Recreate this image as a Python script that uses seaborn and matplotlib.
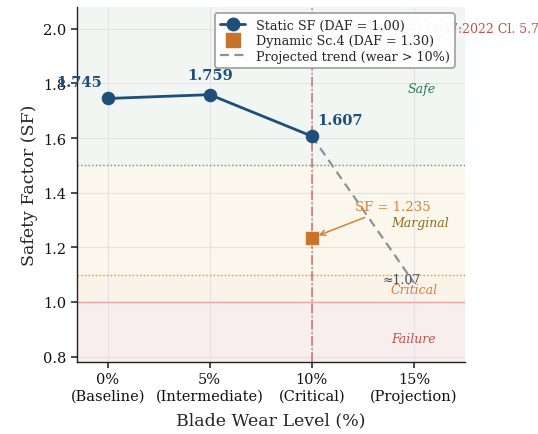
import matplotlib
matplotlib.use("Agg")
import matplotlib.pyplot as plt
import seaborn as sns
import pandas as pd
from matplotlib.lines import Line2D

wear = [0, 5, 10]
static_sf = [1.745, 1.759, 1.607]
dyn_wear = [10]
dyn_sf = [1.235]
proj_wear = [10, 15]
proj_sf = [1.607, 1.07]
tick_pos = [0, 5, 10, 15]
tick_labels = ["0%\n(Baseline)", "5%\n(Intermediate)", "10%\n(Critical)", "15%\n(Projection)"]

sns.set_theme(style="whitegrid")
plt.rcParams['font.family'] = ['DejaVu Serif']

fig = plt.figure(figsize=(5.38, 4.35), dpi=100)
ax = fig.add_axes([77/538, 1-363/435, 388/538, 355/435])

ax.axhspan(1.5, 2.08, color="#e8f1ec", alpha=0.6, zorder=0)
ax.axhspan(1.1, 1.5, color="#fbf3e0", alpha=0.6, zorder=0)
ax.axhspan(1.0, 1.1, color="#f9eadc", alpha=0.6, zorder=0)
ax.axhspan(0.78, 1.0, color="#f6e3e3", alpha=0.6, zorder=0)
ax.axhline(1.5, color="#5a9e6a", ls=":", lw=1, zorder=1)
ax.axhline(1.1, color="#c9a03a", ls=":", lw=1, zorder=1)
ax.axhline(1.0, color="#e3a8a8", ls="-", lw=1, zorder=1)
ax.axvline(10, color="#c0504d", ls="-.", lw=1.1, alpha=0.8, zorder=1)
ax.text(10.6, 2.0, "Wear limit (ISO 5057:2022 Cl. 5.7.1)", color="#c0504d", fontsize=9,
        va="center", ha="left", clip_on=False, zorder=1)

df = pd.DataFrame({"wear": wear, "sf": static_sf})
sns.lineplot(data=df, x="wear", y="sf", ax=ax, color="#1f4e79", lw=2, marker="o",
             markersize=9, markeredgecolor="#1f4e79", zorder=4)
pdf = pd.DataFrame({"wear": proj_wear, "sf": proj_sf})
sns.lineplot(data=pdf, x="wear", y="sf", ax=ax, color="#8a939c", lw=1.6, ls=(0, (4, 2.5)), zorder=3)
ddf = pd.DataFrame({"wear": dyn_wear, "sf": dyn_sf})
sns.scatterplot(data=ddf, x="wear", y="sf", ax=ax, color="#c8732a", marker="s", s=110,
                edgecolor="#f5dcc4", linewidth=0.8, zorder=5)

for x, y, dx, dy in zip(wear, static_sf, [-1.4, 0, 1.4], [0.035, 0.045, 0.035]):
    ax.text(x + dx, y + dy, f"{y:.3f}", color="#1f4e79",
            fontweight="bold", fontsize=10.5, ha="center", va="bottom", zorder=6)

ax.annotate(f"SF = {dyn_sf[0]:.3f}", xy=(10.2, 1.24), xytext=(12.1, 1.325),
            color="#d2813a", fontsize=9.5, ha="left", va="bottom",
            arrowprops=dict(arrowstyle="->", color="#d2813a", lw=1.1), zorder=6)
ax.text(14.4, proj_sf[1] - 0.01, f"≈{proj_sf[1]:.2f}", color="#3b4a5a", fontsize=9, ha="center", va="bottom", zorder=6)

ax.text(15.4, 1.78, "Safe", color="#2e7d4f", style="italic", fontsize=9, ha="center", va="center")
ax.text(15.3, 1.29, "Marginal", color="#8a6d1f", style="italic", fontsize=9, ha="center", va="center")
ax.text(15.0, 1.045, "Critical", color="#d2813a", style="italic", fontsize=9, ha="center", va="center")
ax.text(15.0, 0.865, "Failure", color="#c0504d", style="italic", fontsize=9, ha="center", va="center")

ax.set_xlim(-1.5, 17.5)
ax.set_ylim(0.78, 2.08)
ax.set_xticks(tick_pos)
ax.set_xticklabels(tick_labels, fontsize=10.5)
ax.set_yticks([0.8, 1.0, 1.2, 1.4, 1.6, 1.8, 2.0])
ax.set_yticklabels([f"{v:.1f}" for v in [0.8, 1.0, 1.2, 1.4, 1.6, 1.8, 2.0]], fontsize=10.5)
ax.tick_params(axis="both", which="both", length=4, color="#333333", bottom=True, left=True, labelcolor="#111111")
ax.set_xlabel("Blade Wear Level (%)", fontsize=12.5, labelpad=6)
ax.set_ylabel("Safety Factor (SF)", fontsize=12.5)
ax.grid(True, color="#e2e2e2", lw=0.8)
for s in ["left", "bottom"]:
    ax.spines[s].set_color("#222222")
    ax.spines[s].set_linewidth(1.0)
for s in ["top", "right"]:
    ax.spines[s].set_visible(False)

handles = [
    Line2D([0], [0], color="#1f4e79", lw=2, marker="o", markersize=9),
    Line2D([0], [0], color="#c8732a", marker="s", ls="none", markersize=10),
    Line2D([0], [0], color="#8a939c", lw=1.6, ls=(0, (4, 2.5))),
]
leg = ax.legend(handles, ["Static SF (DAF = 1.00)", "Dynamic Sc.4 (DAF = 1.30)", "Projected trend (wear > 10%)"],
                loc="upper right", fontsize=9.2, frameon=True, framealpha=0.95, edgecolor="#999999",
                borderpad=0.4, labelspacing=0.2, handlelength=2.0, bbox_to_anchor=(0.99, 1.0))
leg.get_frame().set_linewidth(1.2)
leg.set_zorder(10)

fig.savefig("out.png", dpi=100)
